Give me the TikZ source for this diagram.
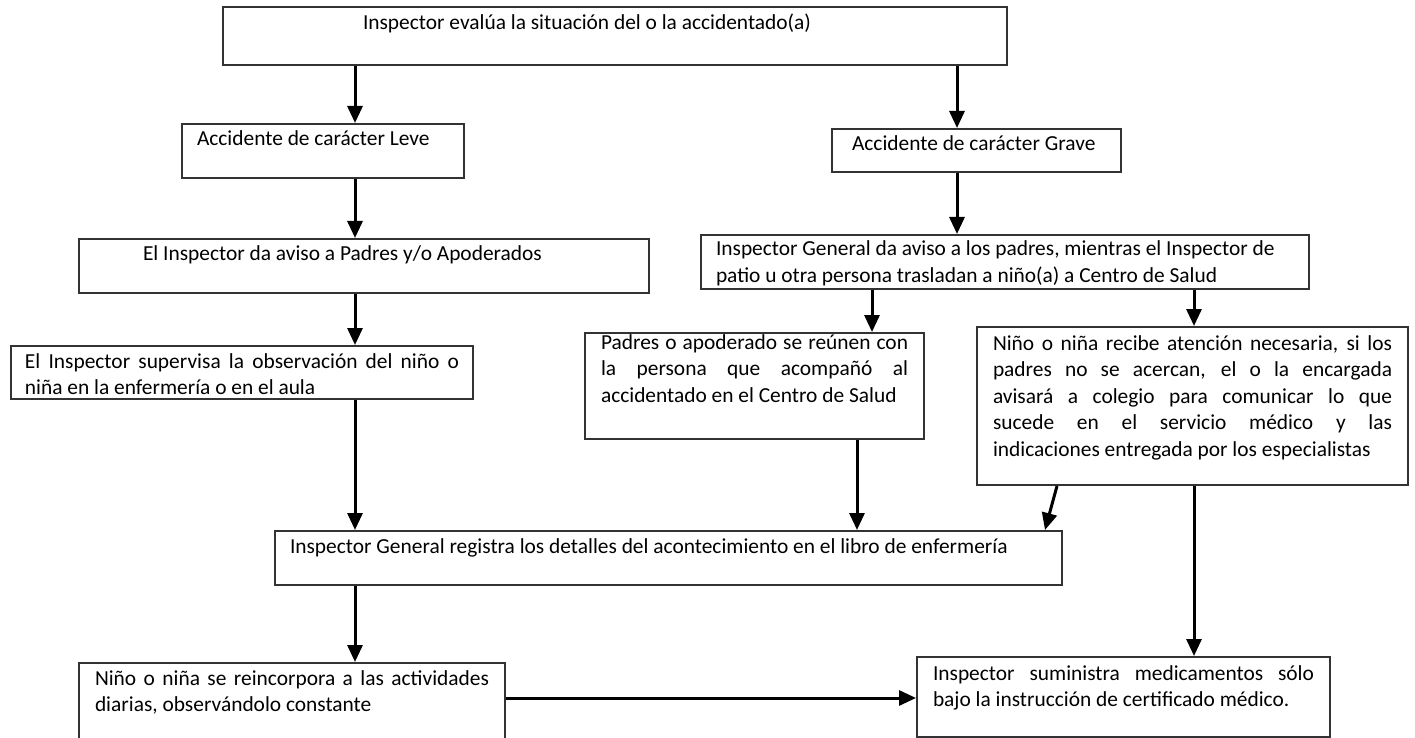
\documentclass[tikz,border=0pt]{standalone}
\usepackage{fontspec}
\setmainfont{Carlito}
\usetikzlibrary{arrows.meta}

\begin{document}
\begin{tikzpicture}
  [x=0.5pt, y=-0.5pt,
   font=\fontsize{10.7pt}{13.3pt}\selectfont,
   stepbox/.style={draw=black!80, line width=1pt, anchor=north west, inner ysep=0pt, align=flush left,
     execute at begin node={\spaceskip=0pt\xspaceskip=0pt\hyphenpenalty=10000\exhyphenpenalty=10000}},
   jbox/.style={stepbox, align=justify},
   flow/.style={-{Triangle[width=7.5pt,length=8.5pt]}, line width=1.5pt},]

  \clip (0,0) rectangle (1415,738);

  % arrow columns
  \coordinate (colL) at (355,0);
  \coordinate (colR) at (957,0);
  \coordinate (colP) at (872,0);
  \coordinate (colD) at (857,0);
  \coordinate (colN) at (1194,0);
  \coordinate (slA) at (1057,0);
  \coordinate (slB) at (1045,0);
  \coordinate (rowH) at (0,698);

  \node[stepbox, inner xsep=70pt, text width=252pt, text height=11.5pt, text depth=17.5pt] (evalua) at (222,6) {Inspector evalúa la situación del o la accidentado(a)};
  \node[stepbox, inner xsep=7.5pt, text width=126pt, text height=11pt, text depth=16pt] (leve) at (181,123) {Accidente de carácter Leve};
  \node[stepbox, inner xsep=10pt, text width=124.5pt, text height=11pt, text depth=10.5pt] (grave) at (831,128) {Accidente de carácter Grave};
  \node[stepbox, inner xsep=32pt, text width=221pt, text height=11pt, text depth=16pt] (aviso) at (78,238) {El Inspector da aviso a Padres y/o Apoderados};
  \node[stepbox, inner xsep=7.5pt, text width=289pt, text height=10.5pt, text depth=16.5pt] (genaviso) at (700,234) {Inspector General da aviso a los padres, mientras el Inspector de\\patio u otra persona trasladan a niño(a) a Centro de Salud};
  \node[jbox, inner xsep=8pt, text width=153.5pt, text height=8pt, text depth=45pt] (padres) at (584,332) {Padres o apoderado se reúnen con\linebreak la persona que acompañó al\linebreak accidentado en el Centro de Salud};
  \node[jbox, inner xsep=8pt, text width=199.5pt, text height=11.5pt, text depth=67.5pt] (recibe) at (976,326) {Niño o niña recibe atención necesaria, si los\linebreak padres no se acercan, el o la encargada\linebreak avisará a colegio para comunicar lo que\linebreak sucede en el servicio médico y las\linebreak indicaciones entregada por los especialistas};
  \node[jbox, inner xsep=7pt, text width=217pt, text height=11pt, text depth=15.5pt] (supervisa) at (10,345) {El Inspector supervisa la observación del niño o\linebreak niña en la enfermería o en el aula};
  \node[stepbox, inner xsep=7.5pt, text width=378.5pt, text height=11pt, text depth=16pt] (registra) at (274,530) {Inspector General registra los detalles del acontecimiento en el libro de enfermería};
  \node[jbox, inner xsep=8pt, text width=197pt, text height=11pt, text depth=35pt] (reincorpora) at (78,662) {Niño o niña se reincorpora a las actividades\linebreak diarias, observándolo constante};
  \node[jbox, inner xsep=8pt, text width=190.5pt, text height=11.5pt, text depth=28.5pt] (suministra) at (916,656) {Inspector suministra medicamentos sólo\linebreak bajo la instrucción de certificado médico.};

  \draw[flow] (evalua.south -| colL) -- (leve.north -| colL);
  \draw[flow] (evalua.south -| colR) -- (grave.north -| colR);
  \draw[flow] (leve.south -| colL) -- (aviso.north -| colL);
  \draw[flow] (grave.south -| colR) -- (genaviso.north -| colR);
  \draw[flow] (aviso.south -| colL) -- (supervisa.north -| colL);
  \draw[flow] (genaviso.south -| colP) -- (padres.north -| colP);
  \draw[flow] (genaviso.south -| colN) -- (recibe.north -| colN);
  \draw[flow] (supervisa.south -| colL) -- (registra.north -| colL);
  \draw[flow] (padres.south -| colD) -- (registra.north -| colD);
  \draw[flow] (recibe.south -| slA) -- (registra.north -| slB);
  \draw[flow] (registra.south -| colL) -- (reincorpora.north -| colL);
  \draw[flow] (recibe.south -| colN) -- (suministra.north -| colN);
  \draw[flow] (reincorpora.east |- rowH) -- (suministra.west |- rowH);

\end{tikzpicture}
\end{document}
